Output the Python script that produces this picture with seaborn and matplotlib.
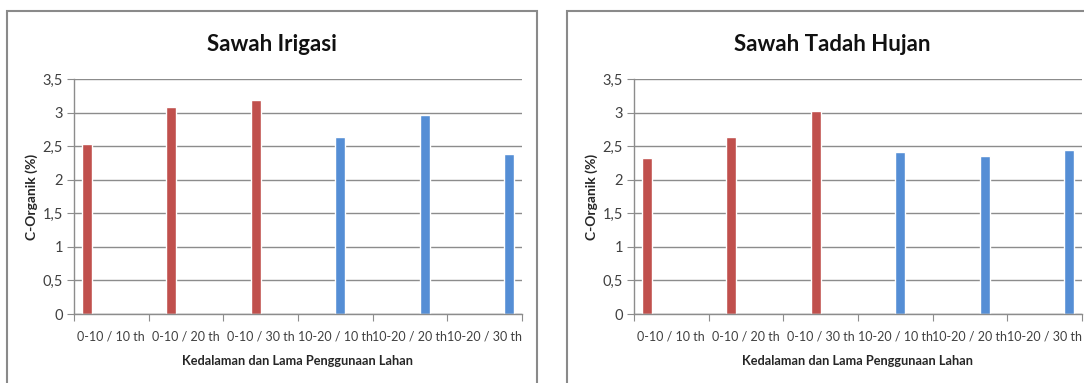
import pandas as pd
import seaborn as sns
import numpy as np
import matplotlib.pyplot as plt
from matplotlib.patches import Rectangle

categories = ['0-10 / 10 th', '0-10 / 20 th', '0-10 / 30 th',
              '10-20 / 10 th', '10-20 / 20 th', '10-20 / 30 th']
depth = ['0-10', '0-10', '0-10', '10-20', '10-20', '10-20']
irigasi = [2.53, 3.08, 3.19, 2.63, 2.97, 2.39]
tadah_hujan = [2.32, 2.64, 3.03, 2.41, 2.35, 2.44]
y_ticks = [0, 0.5, 1, 1.5, 2, 2.5, 3, 3.5]
y_labels = ['0', '0,5', '1', '1,5', '2', '2,5', '3', '3,5']
titles = ['Sawah Irigasi', 'Sawah Tadah Hujan']

sns.set_style('white')
plt.rcParams['font.family'] = ['Lato', 'DejaVu Sans']

colors = {'0-10': '#C0504D', '10-20': '#558ED5'}
grid_c = '#8c8c8c'
text_c = '#404040'

fig = plt.figure(figsize=(10.84, 3.83), dpi=100)

panels = [(irigasi, 74, 7), (tadah_hujan, 634, 567)]
for (vals, ax_left, box_left), title in zip(panels, titles):
    df = pd.DataFrame({'cat': categories, 'val': vals, 'grp': depth})
    ax = fig.add_axes([ax_left / 1084, 69 / 383, 448 / 1084, 235 / 383])
    sns.barplot(data=df, x='cat', y='val', hue='grp', palette=colors, dodge=False,
                width=0.115, saturation=1, legend=False, ax=ax)
    ax.set_xlim(-0.15, 5.15)
    ax.set_ylim(0, 3.5)
    ax.set_yticks(y_ticks)
    ax.set_yticklabels(y_labels, fontsize=10.5, color=text_c)
    ax.set_xticks([])
    ax.set_xlabel('')
    ax.set_ylabel('C-Organik (%)', fontsize=10, fontweight='bold', labelpad=3)
    ax.yaxis.grid(True, color=grid_c, lw=1)
    ax.set_axisbelow(True)
    ax.tick_params(axis='y', length=5, color=grid_c, pad=3, left=True)
    for s in ['top', 'right']:
        ax.spines[s].set_visible(False)
    for s in ['left', 'bottom']:
        ax.spines[s].set_color(grid_c)
        ax.spines[s].set_linewidth(1)

    # category axis: six equal slots, labels centred between tick marks
    ax2 = ax.twiny()
    ax2.set_xlim(0, 6)
    ax2.xaxis.set_ticks_position('bottom')
    ax2.xaxis.set_label_position('bottom')
    ax2.set_xticks(range(7))
    ax2.set_xticklabels([])
    ax2.set_xticks(np.arange(6) + 0.5, minor=True)
    ax2.set_xticklabels(categories, minor=True, fontsize=9, color=text_c)
    ax2.tick_params(axis='x', which='major', length=5, color=grid_c)
    ax2.tick_params(axis='x', which='minor', length=0, pad=12)
    ax2.set_xlabel('Kedalaman dan Lama Penggunaan Lahan', fontsize=9.2,
                   fontweight='bold', labelpad=9)
    for s in ax2.spines.values():
        s.set_visible(False)

    fig.text((box_left + 265) / 1084, 1 - 51 / 383, title, ha='center', va='baseline',
             fontsize=16, fontweight='bold', color='#111111')
    fig.patches.append(Rectangle((box_left / 1084, -0.1), 530 / 1084, 1.1 - 11 / 383,
                                 transform=fig.transFigure, fill=False,
                                 edgecolor='#8a8a8a', lw=1.5))

fig.savefig('out.png', dpi=100)
